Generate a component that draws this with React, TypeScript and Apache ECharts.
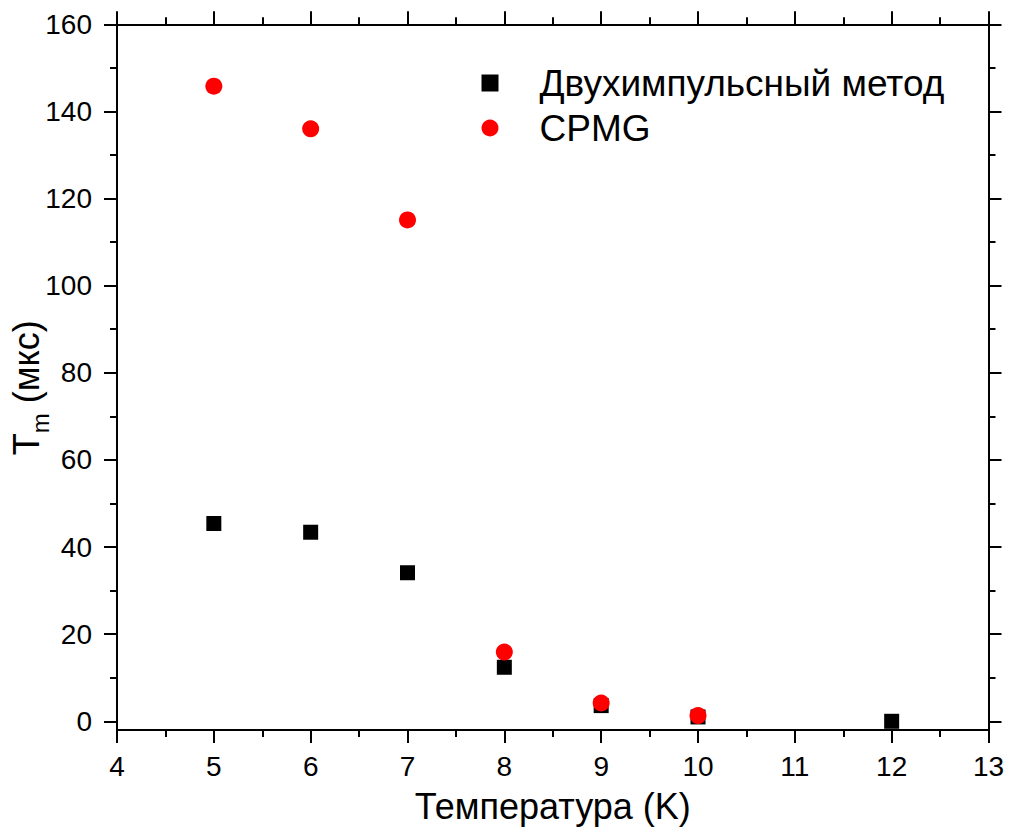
import React, { useEffect, useRef } from 'react';
import * as echarts from 'echarts';

// ---- data ----
const seriesNames = ['Двухимпульсный метод', 'CPMG'];
const temperatureTwoPulse = [5, 6, 7, 8, 9, 10, 12];
const tmTwoPulse = [45.4, 43.4, 34.1, 12.4, 3.6, 1.0, 0.0];
const temperatureCpmg = [5, 6, 7, 8, 9, 10];
const tmCpmg = [145.8, 136.0, 115.1, 15.9, 4.2, 1.3];

const xTitle = 'Температура (K)';
const yTitleMain = 'T';
const yTitleSub = 'm';
const yTitleUnit = ' (мкс)';

const xMin = 4;
const xMax = 13;
const xStep = 1;
const yMin = -2;
const yMax = 160;
const yTickMin = 0;
const yStep = 20;

// ---- layout ----
const FONT = 'Arial, "Liberation Sans", Helvetica, sans-serif';
const W = 1012;
const H = 828;
const G = { left: 117, right: 23.5, top: 24.3, bottom: 98 };
const plotH = H - G.top - G.bottom;
const tickGridBottom = G.bottom + (plotH * (yTickMin - yMin)) / (yMax - yMin);

const lineStyle = { color: '#000', width: 2 };
const majorTick = { show: true, inside: false, length: 13, lineStyle };
const minorTick = { show: true, splitNumber: 2, length: 7, lineStyle };
const labelStyle = { color: '#000', fontSize: 28, fontFamily: FONT };
const TITLE_SIZE = 36;

export default function App() {
  const ref = useRef<HTMLDivElement>(null);

  useEffect(() => {
    if (!ref.current) return;
    const chart = echarts.init(ref.current, null, { renderer: 'svg' });

    const option: any = {
      animation: false,
      backgroundColor: '#fff',
      textStyle: { fontFamily: FONT },
      grid: [
        { left: G.left, right: G.right, top: G.top, bottom: G.bottom, containLabel: false, outerBoundsMode: 'none' },
        { left: G.left, right: G.right, top: G.top, bottom: tickGridBottom, containLabel: false, outerBoundsMode: 'none' },
      ],
      legend: {
        orient: 'vertical',
        left: 481.5,
        top: 63,
        padding: 0,
        itemWidth: 17,
        itemHeight: 17,
        itemGap: 5,
        data: seriesNames,
        textStyle: {
          color: '#000',
          fontSize: 37,
          fontFamily: FONT,
          lineHeight: 40,
          padding: [0, 0, 0, 36],
        },
      },
      xAxis: [
        {
          gridIndex: 0,
          type: 'value',
          position: 'bottom',
          min: xMin,
          max: xMax,
          interval: xStep,
          axisLine: { show: true, onZero: false, lineStyle },
          axisTick: majorTick,
          minorTick,
          splitLine: { show: false },
          axisLabel: { ...labelStyle, margin: 22 },
          name: xTitle,
          nameLocation: 'middle',
          nameGap: 58,
          nameMoveOverlap: false,
          nameTextStyle: { color: '#000', fontSize: TITLE_SIZE, fontFamily: FONT },
        },
        {
          gridIndex: 0,
          type: 'value',
          position: 'top',
          min: xMin,
          max: xMax,
          interval: xStep,
          axisLine: { show: true, onZero: false, lineStyle },
          axisTick: majorTick,
          minorTick,
          splitLine: { show: false },
          axisLabel: { show: false },
        },
        {
          gridIndex: 1,
          type: 'value',
          min: xMin,
          max: xMax,
          show: false,
        },
      ],
      yAxis: [
        {
          gridIndex: 0,
          type: 'value',
          position: 'left',
          min: yMin,
          max: yMax,
          axisLine: { show: true, onZero: false, lineStyle },
          axisTick: { show: false },
          axisLabel: { show: false },
          splitLine: { show: false },
        },
        {
          gridIndex: 0,
          type: 'value',
          position: 'right',
          min: yMin,
          max: yMax,
          axisLine: { show: true, onZero: false, lineStyle },
          axisTick: { show: false },
          axisLabel: { show: false },
          splitLine: { show: false },
        },
        {
          gridIndex: 1,
          type: 'value',
          position: 'left',
          min: yTickMin,
          max: yMax,
          interval: yStep,
          axisLine: { show: false, onZero: false },
          axisTick: majorTick,
          minorTick,
          splitLine: { show: false },
          axisLabel: { ...labelStyle, margin: 25 },
          name: `{t|${yTitleMain}}{s|${yTitleSub}}{t|${yTitleUnit}}`,
          nameLocation: 'middle',
          nameRotate: 90,
          nameGap: 65,
          nameMoveOverlap: false,
          nameTextStyle: {
            padding: [0, 30, 0, 0],
            rich: {
              t: { fontSize: TITLE_SIZE, color: '#000', fontFamily: FONT, verticalAlign: 'top' },
              s: { fontSize: 24, color: '#000', fontFamily: FONT, verticalAlign: 'top', padding: [20, 0, 0, 0] },
            },
          },
        },
        {
          gridIndex: 1,
          type: 'value',
          position: 'right',
          min: yTickMin,
          max: yMax,
          interval: yStep,
          axisLine: { show: false, onZero: false },
          axisTick: majorTick,
          minorTick,
          splitLine: { show: false },
          axisLabel: { show: false },
        },
      ],
      series: [
        {
          name: seriesNames[0],
          type: 'scatter',
          xAxisIndex: 0,
          yAxisIndex: 0,
          symbol: 'rect',
          symbolSize: 15,
          itemStyle: { color: '#000', opacity: 1 },
          data: temperatureTwoPulse.map((t, i) => [t, tmTwoPulse[i]]),
        },
        {
          name: seriesNames[1],
          type: 'scatter',
          xAxisIndex: 0,
          yAxisIndex: 0,
          symbol: 'circle',
          symbolSize: 17,
          itemStyle: { color: '#ff0000', opacity: 1 },
          data: temperatureCpmg.map((t, i) => [t, tmCpmg[i]]),
        },
      ],
    };

    chart.setOption(option);
    return () => chart.dispose();
  }, []);

  return (
    <div
      ref={ref}
      style={{ position: 'fixed', left: 0, top: 0, width: W, height: H, background: '#fff' }}
    />
  );
}
